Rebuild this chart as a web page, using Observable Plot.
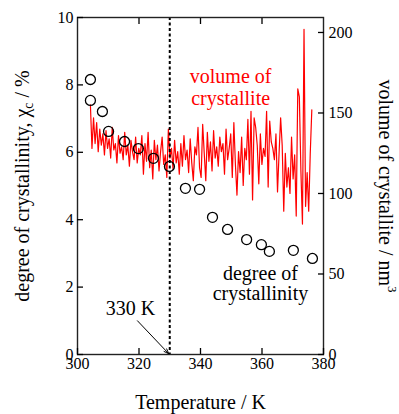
<!DOCTYPE html>
<html>
<head>
<meta charset="utf-8">
<script src="https://cdn.jsdelivr.net/npm/d3@7"></script>
<script src="https://cdn.jsdelivr.net/npm/@observablehq/plot@0.6"></script>
<style>
  html, body { margin: 0; padding: 0; background: white; }
  svg text { font-family: "Liberation Serif", "Times New Roman", serif !important; }
</style>
</head>
<body>
<div id="chart"></div>
<script>
// ---- data ----
const circleTemps = [304.2, 304.2, 308.1, 310.1, 315.3, 319.8, 324.7, 329.9, 335.1, 339.7, 343.9, 348.8, 355.0, 359.8, 362.4, 370.2, 376.4];
const crystallinity = [8.16, 7.54, 7.21, 6.62, 6.32, 6.11, 5.82, 5.58, 4.93, 4.90, 4.07, 3.71, 3.41, 3.26, 3.06, 3.09, 2.85];

const volumeStartTemp = 304.2;
const volumeEndTemp = 376.2;
const volume = [
  155, 128, 147, 131, 144, 126, 140, 130, 137, 124, 139, 128,
  134, 122, 141, 127, 131, 119, 136, 125, 129, 121,
  138, 124, 130, 117, 133, 126, 121, 135, 119, 128,
  124, 136, 112, 131, 120, 138, 116, 127, 109, 133,
  121, 130, 114, 126, 135, 118, 124, 110, 140, 122,
  128, 115, 133, 119, 126, 112, 131, 117, 136, 121,
  127, 113, 134, 119, 108, 129, 124, 141, 116, 110,
  143, 125, 108, 138, 120, 132, 114, 139, 122, 129,
  117, 135, 126, 131, 112, 140, 121, 128, 137, 110,
  144, 118, 99, 126, 113, 135, 105, 128, 121, 146,
  112, 151, 96, 147, 141, 130, 106, 137, 118, 128,
  123, 151, 104, 145, 132, 128, 121, 137, 101, 125,
  147, 130, 89, 125, 104, 116, 100, 135, 109, 124, 86, 165, 160, 114, 81, 202, 92, 113, 89, 125, 152
];

const xTicks = [300, 320, 340, 360, 380];
const xTopTicks = [320, 340, 360];
const yLeftTicks = [0, 2, 4, 6, 8, 10];
const yRightTicks = [0, 50, 100, 150, 200];
const transitionTemp = 330;

const xTitle = "Temperature / K";
const yLeftTitle = "degree of crystallinity, χc / %";
const yRightTitle = "volume of crystallite / nm3";
const volumeLabel = "volume of\ncrystallite";
const crystLabel = "degree of\ncrystallinity";
const tempLabel = "330 K";

// right axis (volume) maps onto left-axis units
const rightTopValue = 209.3; // volume value at top of frame (left = 10)
const k = rightTopValue / 10;

const circles = circleTemps.map((t, i) => ({t, c: crystallinity[i]}));
const step = (volumeEndTemp - volumeStartTemp) / (volume.length - 1);
const volData = volume.map((v, i) => ({t: volumeStartTemp + i * step, v}));

const font = "Liberation Serif";

const chart = Plot.plot({
  width: 399,
  height: 414,
  marginLeft: 77,
  marginRight: 76,
  marginTop: 17,
  marginBottom: 60,
  x: {domain: [300, 380]},
  y: {domain: [0, 10]},
  style: {fontFamily: font, fontSize: "16px", color: "black", background: "white"},
  marks: [
    // red volume line
    Plot.line(volData, {x: "t", y: d => d.v / k, stroke: "#ff0000", strokeWidth: 1.2}),
    // dashed 330 K line
    Plot.ruleX([transitionTemp], {stroke: "black", strokeWidth: 2, strokeDasharray: "3,2.5"}),
    // crystallinity circles
    Plot.dot(circles, {x: "t", y: "c", r: 5, stroke: "black", strokeWidth: 1.3, fill: "none"}),
    // frame
    Plot.frame({stroke: "#222", strokeWidth: 1.4}),
    // bottom axis
    Plot.axisX({anchor: "bottom", ticks: xTicks, tickSize: -6, fill: "none", label: null, strokeWidth: 1.3}),
    Plot.axisX({anchor: "bottom", ticks: xTicks, tickSize: 0, tickPadding: 3, stroke: "none", label: null, fontSize: 16}),
    // top ticks
    Plot.axisX({anchor: "top", ticks: xTopTicks, tickSize: -6, fill: "none", label: null, strokeWidth: 1.3}),
    // left axis
    Plot.axisY({anchor: "left", ticks: yLeftTicks, tickSize: -6, fill: "none", label: null, strokeWidth: 1.3}),
    Plot.axisY({anchor: "left", ticks: yLeftTicks, tickSize: 0, tickPadding: 4, stroke: "none", label: null, fontSize: 16}),
    // right axis (volume)
    Plot.axisY({anchor: "right", ticks: yRightTicks.map(v => v / k), tickSize: -6, fill: "none", label: null, strokeWidth: 1.3}),
    Plot.axisY({anchor: "right", ticks: yRightTicks.map(v => v / k), tickFormat: d => String(Math.round(d * k)), tickSize: 0, tickPadding: 5, stroke: "none", label: null, fontSize: 16}),
    // annotations
    Plot.text([volumeLabel], {x: 349.8, y: 7.93, text: d => d, fill: "#ff0000", fontSize: 20, lineHeight: 1.1, textAnchor: "middle"}),
    Plot.text([crystLabel], {x: 359.5, y: 2.09, text: d => d, fill: "black", fontSize: 20, lineHeight: 1.0, textAnchor: "middle"}),
    Plot.text([tempLabel], {x: 317.2, y: 1.35, text: d => d, fill: "black", fontSize: 20, textAnchor: "middle"}),
    Plot.arrow([transitionTemp], {x1: 319.5, y1: 1.0, x2: d => d - 0.3, y2: 0.02, stroke: "black", strokeWidth: 1, headLength: 8, headAngle: 40}),
    // axis titles
    Plot.text([xTitle], {frameAnchor: "bottom", dy: 48, text: d => d, fontSize: 20, fill: "black", textAnchor: "middle", lineAnchor: "middle"}),
    Plot.text([yLeftTitle], {frameAnchor: "left", dx: -55, rotate: -90, text: d => d, fontSize: 20, fill: "black", textAnchor: "middle", lineAnchor: "middle"}),
    Plot.text([yRightTitle], {frameAnchor: "right", dx: 62, rotate: 90, text: d => d, fontSize: 20, fill: "black", textAnchor: "middle", lineAnchor: "middle"})
  ]
});

document.getElementById("chart").appendChild(chart);

// sub/superscripts in the titles
d3.select(chart).selectAll("text").each(function() {
  const el = d3.select(this);
  const txt = this.textContent;
  if (txt === yLeftTitle) {
    el.text(null);
    el.append("tspan").text("degree of crystallinity, χ");
    el.append("tspan").attr("font-size", 14).attr("dy", 4).text("c");
    el.append("tspan").attr("dy", -4).text(" / %");
  } else if (txt === yRightTitle) {
    el.text(null);
    el.append("tspan").text("volume of crystallite / nm");
    el.append("tspan").attr("font-size", 13).attr("dy", -9).text("3");
  }
});
</script>
</body>
</html>
